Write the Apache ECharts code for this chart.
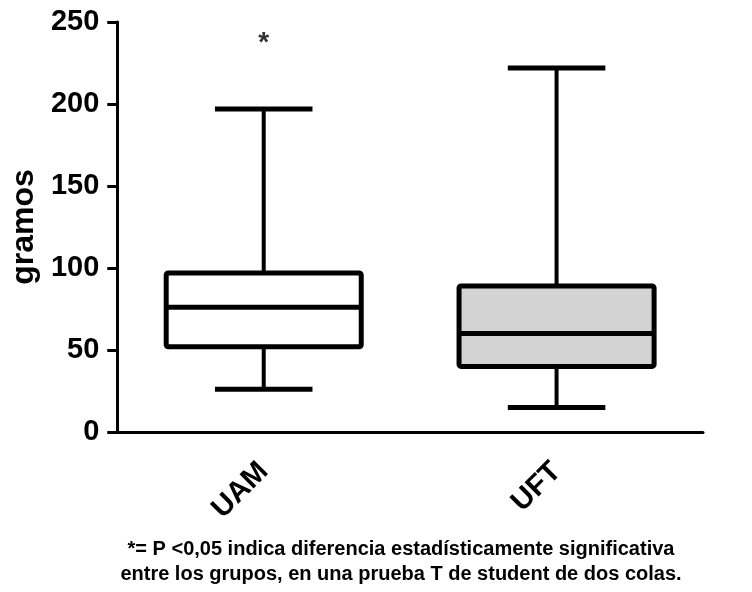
<!DOCTYPE html>
<html>
<head>
<meta charset="utf-8">
<script src="https://cdn.jsdelivr.net/npm/echarts@6/dist/echarts.min.js"></script>
<style>
  html, body { margin: 0; padding: 0; background: #fff; }
  #chart { width: 752px; height: 592px; }
</style>
</head>
<body>
<div id="chart"></div>
<script>
// datos del grafico
var grupos = ["UAM", "UFT"];
var minimos = [26, 15];
var q1 = [52, 40];
var medianas = [76, 60];
var q3 = [97, 89];
var maximos = [197, 222];
var rellenos = ["#ffffff", "#d3d3d3"];
var marcas = [[0, 237, "*"]];   // asterisco de significancia
var yTicks = [0, 50, 100, 150, 200, 250];
var nota = [
  "*= P <0,05 indica diferencia estadísticamente significativa",
  "entre los grupos, en una prueba T de student de dos colas."
];

var fuente = "Liberation Sans, Arial, sans-serif";

var cajas = grupos.map(function (g, i) {
  return [i, minimos[i], q1[i], medianas[i], q3[i], maximos[i]];
});

var chart = echarts.init(document.getElementById("chart"));

var option = {
  animation: false,
  backgroundColor: "#fff",
  grid: { left: 115, right: 49, top: 22, bottom: 160 },
  xAxis: {
    type: "category",
    data: grupos,
    axisLine: { lineStyle: { color: "#000", width: 3 } },
    axisTick: { alignWithLabel: true, length: 10, lineStyle: { color: "#000", width: 3 } },
    axisLabel: {
      rotate: 45, margin: 35, color: "#000",
      fontFamily: fuente, fontWeight: "bold", fontSize: 29
    },
    splitLine: { show: false }
  },
  yAxis: {
    type: "value",
    min: yTicks[0],
    max: yTicks[yTicks.length - 1],
    interval: 50,
    name: "gramos",
    nameLocation: "middle",
    nameGap: 73,
    nameTextStyle: { color: "#000", fontFamily: fuente, fontWeight: "bold", fontSize: 32 },
    axisLine: { show: true, lineStyle: { color: "#000", width: 3 } },
    axisTick: { show: true, length: 10, lineStyle: { color: "#000", width: 3 } },
    axisLabel: { color: "#000", margin: 18, fontFamily: fuente, fontWeight: "bold", fontSize: 29 },
    splitLine: { show: false }
  },
  series: [
    {
      type: "custom",
      data: cajas,
      renderItem: function (params, api) {
        var i = api.value(0);
        var x = api.coord([i, 0])[0];
        var banda = api.size([1, 0])[0];
        var half = banda * 0.333;
        var cap = half / 2;
        var yMin = api.coord([i, api.value(1)])[1];
        var yQ1 = api.coord([i, api.value(2)])[1];
        var yMed = api.coord([i, api.value(3)])[1];
        var yQ3 = api.coord([i, api.value(4)])[1];
        var yMax = api.coord([i, api.value(5)])[1];
        var linea = { stroke: "#000", lineWidth: 5 };
        return {
          type: "group",
          children: [
            { type: "line", shape: { x1: x, y1: yMax, x2: x, y2: yQ3 }, style: { stroke: "#000", lineWidth: 4 } },
            { type: "line", shape: { x1: x, y1: yQ1, x2: x, y2: yMin }, style: { stroke: "#000", lineWidth: 4 } },
            { type: "line", shape: { x1: x - cap, y1: yMax, x2: x + cap, y2: yMax }, style: linea },
            { type: "line", shape: { x1: x - cap, y1: yMin, x2: x + cap, y2: yMin }, style: linea },
            {
              type: "rect",
              shape: { x: x - half, y: yQ3, width: half * 2, height: yQ1 - yQ3, r: 2 },
              style: { fill: rellenos[i], stroke: "#000", lineWidth: 5 }
            },
            { type: "line", shape: { x1: x - half, y1: yMed, x2: x + half, y2: yMed }, style: linea }
          ]
        };
      },
      z: 3
    },
    {
      type: "scatter",
      data: marcas,
      symbolSize: 0,
      label: {
        show: true,
        position: "inside",
        formatter: function (p) { return p.value[2]; },
        color: "#000",
        fontFamily: fuente,
        fontWeight: "bold",
        fontSize: 28
      }
    }
  ],
  graphic: [
    {
      type: "text",
      x: 401,
      y: 537,
      style: {
        text: nota.join("\n"),
        fill: "#000",
        font: "bold 20px " + fuente,
        textAlign: "center",
        textVerticalAlign: "top",
        lineHeight: 25
      }
    }
  ]
};

chart.setOption(option);
</script>
</body>
</html>
